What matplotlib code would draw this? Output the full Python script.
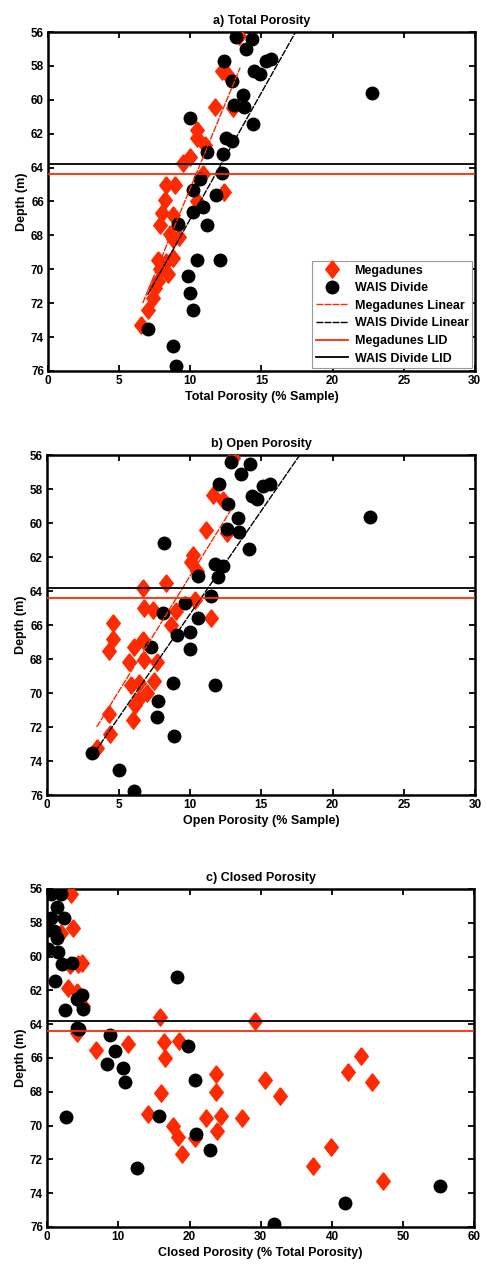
# porosity vs depth, three panels (total / open / closed)
import numpy as np
import matplotlib
matplotlib.use("Agg")
import matplotlib.pyplot as plt

plt.rcParams['font.family'] = ['Liberation Sans', 'DejaVu Sans']
plt.rcParams['font.weight'] = 'bold'
plt.rcParams['axes.labelweight'] = 'bold'
plt.rcParams['axes.titleweight'] = 'bold'

# ---------------- data ----------------
# a) total porosity (% sample)
mega_tot_depth = [56.25, 58.3, 58.5, 60.4, 60.5, 61.8, 62.25, 62.65, 63.4, 63.7,
                  64.4, 65.0, 65.0, 65.45, 65.9, 66.0, 66.7, 66.8, 67.4, 67.9,
                  68.1, 68.2, 69.35, 69.45, 69.6, 70.0, 70.3, 70.7, 71.1, 71.7,
                  72.4, 73.3]
mega_tot = [13.45, 12.2, 12.6, 11.7, 13.0, 10.45, 10.5, 11.05, 10.0, 9.5,
            10.9, 8.3, 8.9, 12.4, 8.2, 10.45, 8.0, 8.75, 7.9, 8.6,
            9.2, 8.75, 8.75, 7.7, 8.3, 7.9, 8.4, 7.75, 7.5, 7.35,
            7.0, 6.5]
wais_tot_depth = [56.3, 56.4, 57.0, 57.7, 57.7, 57.6, 58.3, 58.5, 58.9, 59.6,
                  59.7, 60.3, 60.4, 61.1, 61.4, 62.25, 62.45, 63.1, 63.2, 64.3,
                  64.65, 65.3, 65.6, 66.3, 66.6, 67.3, 67.4, 69.45, 69.45, 70.4,
                  71.4, 72.4, 73.5, 74.5, 75.7]
wais_tot = [13.2, 14.3, 13.9, 12.4, 15.3, 15.7, 14.5, 14.9, 12.9, 22.8,
            13.7, 13.1, 13.8, 10.0, 14.4, 12.5, 12.9, 11.2, 12.3, 12.2,
            10.7, 10.2, 11.8, 10.9, 10.2, 9.15, 11.2, 10.5, 12.1, 9.86,
            9.98, 10.2, 7.0, 8.76, 9.0]

# b) open porosity (% sample)
mega_open_depth = [56.2, 58.35, 58.65, 60.4, 60.6, 61.9, 62.3, 62.8, 63.55, 63.8,
                   64.5, 65.0, 65.1, 65.2, 65.6, 65.9, 66.0, 66.85, 66.9, 67.3,
                   67.5, 68.05, 68.15, 68.2, 69.3, 69.4, 69.5, 69.98, 70.4, 70.7,
                   71.25, 71.6, 72.4, 73.25]
mega_open = [13.0, 11.6, 12.3, 11.1, 12.6, 10.2, 10.05, 10.5, 8.3, 6.7,
             10.35, 6.8, 7.4, 9.0, 11.5, 4.64, 8.7, 4.64, 6.7, 6.1,
             4.3, 6.8, 7.7, 5.76, 7.5, 6.45, 5.9, 6.97, 6.34, 6.15,
             4.36, 6.0, 4.4, 3.5]
wais_open_depth = [56.4, 56.5, 57.1, 57.7, 57.8, 57.7, 58.4, 58.6, 58.9, 59.65,
                   59.7, 60.35, 60.5, 61.2, 61.5, 62.4, 62.5, 63.1, 63.2, 64.3,
                   64.7, 65.3, 65.6, 66.4, 66.6, 67.3, 67.4, 69.4, 69.5, 70.45,
                   71.4, 72.5, 73.55, 74.5, 75.75]
wais_open = [12.9, 14.2, 13.6, 12.05, 15.1, 15.6, 14.35, 14.7, 12.7, 22.6,
             13.4, 12.6, 13.45, 8.2, 14.15, 11.75, 12.3, 10.6, 11.98, 11.5,
             9.65, 8.1, 10.6, 10.0, 9.07, 7.27, 10.0, 8.83, 11.75, 7.8,
             7.67, 8.88, 3.12, 5.06, 6.1]

# c) closed porosity (% total porosity)
mega_closed_depth = [56.3, 58.3, 58.6, 60.4, 60.45, 60.5, 61.85, 62.1, 62.9, 63.55,
                     63.8, 64.55, 65.0, 65.05, 65.2, 65.5, 65.9, 66.0, 66.85, 66.95,
                     67.3, 67.45, 68.0, 68.1, 68.25, 69.3, 69.45, 69.55, 69.55, 70.0,
                     70.35, 70.7, 70.75, 71.25, 71.7, 72.4, 73.3]
mega_closed = [3.4, 3.7, 2.0, 4.95, 4.35, 3.2, 2.95, 4.25, 5.1, 15.85,
               29.2, 4.25, 18.5, 16.4, 11.3, 6.8, 44.1, 16.6, 42.2, 23.75,
               30.6, 45.6, 23.75, 16.0, 32.7, 14.2, 24.4, 22.3, 27.3, 17.7,
               23.8, 18.4, 20.7, 39.8, 18.9, 37.35, 47.2]
wais_closed_depth = [56.3, 56.3, 57.05, 57.7, 57.7, 58.4, 58.5, 58.9, 59.55, 59.7,
                     60.35, 60.45, 61.2, 61.45, 62.3, 62.5, 63.1, 63.15, 64.2, 64.3,
                     64.65, 65.3, 65.6, 66.35, 66.6, 67.3, 67.45, 69.45, 69.5, 70.5,
                     71.45, 72.5, 73.6, 74.6, 75.8]
wais_closed = [0.6, 2.0, 1.35, 0.5, 2.3, 0.14, 0.98, 1.45, 0.14, 1.54,
               3.55, 2.15, 18.2, 1.1, 4.95, 4.25, 5.1, 2.48, 4.2, 4.5,
               8.84, 19.8, 9.6, 8.4, 10.7, 20.7, 10.9, 15.7, 2.6, 20.9,
               22.9, 12.6, 55.2, 41.8, 31.9]

# linear fits (end points)
mega_fit_depth_a = [72.0, 58.1]
mega_fit_a = [6.65, 13.5]
wais_fit_depth_a = [71.5, 56.0]
wais_fit_a = [7.0, 17.4]
mega_fit_depth_b = [72.0, 59.2]
mega_fit_b = [3.47, 12.9]
wais_fit_depth_b = [73.45, 56.0]
wais_fit_b = [3.36, 17.7]

# lock-in depths
mega_lid = 64.4
wais_lid = 63.8

titles = ['a) Total Porosity', 'b) Open Porosity', 'c) Closed Porosity']
xlabels = ['Total Porosity (% Sample)', 'Open Porosity (% Sample)',
           'Closed Porosity (% Total Porosity)']

red = '#ff2a00'
# matlab style diamond (a bit wider than matplotlib's thin diamond)
diamond = [(0, 1), (0.78, 0), (0, -1), (-0.78, 0), (0, 1)]

fig = plt.figure(figsize=(4.86, 12.7), dpi=100)
axes = [fig.add_axes([0.099, 0.7079, 0.878, 0.2669]),
        fig.add_axes([0.097, 0.374, 0.881, 0.2677]),
        fig.add_axes([0.097, 0.0339, 0.879, 0.2661])]

panels = [(mega_tot_depth, mega_tot, wais_tot_depth, wais_tot),
          (mega_open_depth, mega_open, wais_open_depth, wais_open),
          (mega_closed_depth, mega_closed, wais_closed_depth, wais_closed)]
fits = [(mega_fit_depth_a, mega_fit_a, wais_fit_depth_a, wais_fit_a),
        (mega_fit_depth_b, mega_fit_b, wais_fit_depth_b, wais_fit_b),
        None]

for i, ax in enumerate(axes):
    md, mv, wd, wv = panels[i]
    ax.plot(mv, md, ls='none', marker=diamond, color=red, mec=red, ms=12.5,
            label='Megadunes', zorder=3)
    ax.plot(wv, wd, 'o', color='k', mec='k', ms=9, label='WAIS Divide', zorder=3)
    if fits[i] is not None:
        fmd, fmv, fwd, fwv = fits[i]
        ax.plot(fmv, fmd, color=red, lw=1.0, ls=(0, (5, 0.8)),
                label='Megadunes Linear', zorder=4)
        ax.plot(fwv, fwd, color='k', lw=1.0, ls=(0, (5, 0.8)),
                label='WAIS Divide Linear', zorder=4)
    ax.axhline(mega_lid, color=red, lw=1.3, label='Megadunes LID', zorder=4)
    ax.axhline(wais_lid, color='k', lw=1.3, label='WAIS Divide LID', zorder=4)

    ax.set_ylim(76, 56)
    ax.set_yticks(np.arange(56, 77, 2))
    if i < 2:
        ax.set_xlim(0, 30)
        ax.set_xticks(np.arange(0, 31, 5))
    else:
        ax.set_xlim(0, 60)
        ax.set_xticks(np.arange(0, 61, 10))
    ax.tick_params(direction='in', top=True, right=True, length=4, width=1.3,
                   labelsize=8.5, pad=3)
    for s in ax.spines.values():
        s.set_linewidth(1.8)
    ax.set_title(titles[i], fontsize=9, pad=6)
    ax.set_xlabel(xlabels[i], fontsize=9, labelpad=3)
    ax.set_ylabel('Depth (m)', fontsize=9, labelpad=2)

leg = axes[0].legend(loc='lower right', fontsize=9, handlelength=2.6,
                     labelspacing=0.45, borderpad=0.3, handletextpad=0.5,
                     fancybox=False, framealpha=1, borderaxespad=0.2)
leg.get_frame().set_edgecolor('#999999')
leg.get_frame().set_linewidth(0.8)

fig.savefig('out.png', dpi=100)
